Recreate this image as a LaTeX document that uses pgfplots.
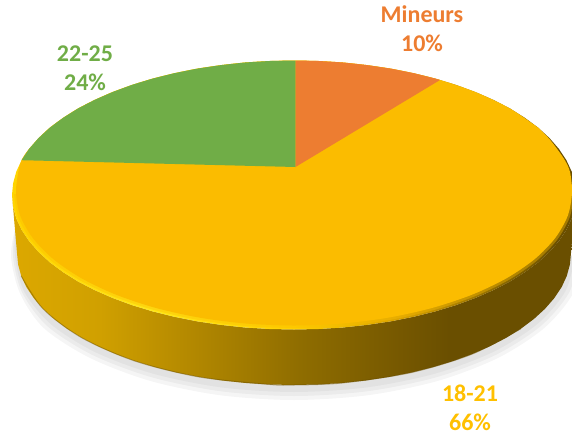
\documentclass[border=0pt]{standalone}
\usepackage{fontspec}
\setmainfont{Carlito}
\usepackage{pgfplots}
\pgfplotsset{compat=1.18}
\definecolor{cyellow}{HTML}{FBBC00}
\definecolor{cgreen}{HTML}{70AD47}
\definecolor{corange}{HTML}{ED7D31}
\definecolor{lyellow}{HTML}{FFC000}
\definecolor{sa}{HTML}{DCA800}
\definecolor{sb}{HTML}{D0A000}
\definecolor{sc}{HTML}{B08600}
\definecolor{sd}{HTML}{8F6D00}
\definecolor{se}{HTML}{765800}
\definecolor{sf}{HTML}{6A4F00}
\definecolor{ra}{HTML}{FFD400}
\definecolor{rb}{HTML}{FFE71A}
\definecolor{rc}{HTML}{FFD000}
\definecolor{rd}{HTML}{D9A200}
\definecolor{re}{HTML}{8A6800}
\definecolor{rf}{HTML}{6A4F00}
% side of the disc, left to right
\pgfdeclarehorizontalshading{pieside}{100bp}{color(0bp)=(sa); color(25bp)=(sa); color(32.8bp)=(sb); color(41.7bp)=(sc); color(50.5bp)=(sd); color(59.4bp)=(se); color(63.8bp)=(sf); color(100bp)=(sf)}
% bevel round the top face
\pgfdeclarehorizontalshading{pierim}{100bp}{color(0bp)=(ra); color(25bp)=(ra); color(37.2bp)=(rb); color(50bp)=(rc); color(59.4bp)=(rd); color(68.3bp)=(re); color(73.6bp)=(rf); color(100bp)=(rf)}
\begin{document}
\begin{tikzpicture}
\useasboundingbox (0,0) rectangle (572pt,434pt);
\begin{axis}[
    at={(0,0)}, anchor=south west,
    width=572pt, height=434pt,
    scale only axis,
    xmin=0, xmax=572,
    ymin=0, ymax=434,
    y dir=reverse,
    hide axis,
]
% soft shadow under the disc
\addplot[draw=none, fill=black, fill opacity=0.04, smooth] coordinates {
    (583,256) (573.2,293.3) (544.3,328) (498.3,357.8) (438.5,380.7) (368.8,395.1) (294,400)
    (219.2,395.1) (149.5,380.7) (89.7,357.8) (43.7,328) (20,293.3) (11,256) (16,225)};
\addplot[draw=none, fill=black, fill opacity=0.04, smooth] coordinates {
    (579,256) (569.3,292.3) (540.8,326) (495.5,355) (436.5,377.2) (367.8,391.2) (294,396)
    (220.2,391.2) (151.5,377.2) (92.5,355) (47.2,326) (22,292.3) (13,256) (16,225)};
\addplot[draw=none, fill=black, fill opacity=0.04, smooth] coordinates {
    (575,256) (565.4,291.2) (537.4,324) (492.7,352.2) (434.5,373.8) (366.7,387.4) (294,392)
    (221.3,387.4) (153.5,373.8) (95.3,352.2) (50.6,324) (24,291.2) (15,256) (16,225)};
% side wall
\addplot[draw=none, shade, shading=pieside] coordinates {
    (576,195) (574.9,206.7) (571.7,218.4) (566.4,229.8) (559,241) (549.6,251.8) (538.2,262.3)
    (525,272.1) (510,281.5) (493.4,290.1) (475.3,298) (455.8,305.2) (435,311.5) (413.2,316.9)
    (390.5,321.4) (367,324.9) (343,327.5) (318.6,329) (294,329.5) (269.4,329) (245,327.5)
    (221,324.9) (197.5,321.4) (174.8,316.9) (153,311.5) (132.2,305.2) (112.7,298) (94.6,290.1)
    (78,281.5) (63,272.1) (49.8,262.3) (38.4,251.8) (29,241) (21.6,229.8) (16.3,218.4)
    (13.1,206.7) (12,195)
    (17,253) (18.1,264.5) (21.2,275.9) (26.4,287.2) (33.7,298.1) (43,308.8) (54.1,319)
    (67.1,328.7) (81.8,337.8) (98.1,346.3) (115.9,354.1) (135.1,361.1) (155.5,367.3)
    (176.9,372.6) (199.3,377) (222.3,380.5) (245.9,383) (269.9,384.5) (294,385) (318.1,384.5)
    (342.1,383) (365.7,380.5) (388.7,377) (411.1,372.6) (432.5,367.3) (452.9,361.1)
    (472.1,354.1) (489.9,346.3) (506.2,337.8) (520.9,328.7) (533.9,319) (545,308.8)
    (554.3,298.1) (561.6,287.2) (566.8,275.9) (569.9,264.5) (571,253) (576,195)};
% darker lower edge of the wall
\addplot[draw=sf, draw opacity=0.45, line width=1pt, smooth] coordinates {
    (21.2,275.9) (43,308.8) (81.8,337.8) (135.1,361.1) (199.3,377) (269.9,384.5) (294,385)
    (342.1,383) (411.1,372.6) (472.1,354.1) (520.9,328.7)};
% bevel, full outline of the top face
\addplot[draw=none, shade, shading=pierim] coordinates {
    (576,195) (574.9,206.7) (571.7,218.4) (566.4,229.8) (559,241) (549.6,251.8) (538.2,262.3)
    (525,272.1) (510,281.5) (493.4,290.1) (475.3,298) (455.8,305.2) (435,311.5) (413.2,316.9)
    (390.5,321.4) (367,324.9) (343,327.5) (318.6,329) (294,329.5) (269.4,329) (245,327.5)
    (221,324.9) (197.5,321.4) (174.8,316.9) (153,311.5) (132.2,305.2) (112.7,298) (94.6,290.1)
    (78,281.5) (63,272.1) (49.8,262.3) (38.4,251.8) (29,241) (21.6,229.8) (16.3,218.4)
    (13.1,206.7) (12,195) (13.1,183.3) (16.3,171.6) (21.6,160.2) (29,149) (38.4,138.2)
    (49.8,127.7) (63,117.9) (78,108.5) (94.6,99.9) (112.7,92) (132.2,84.8) (153,78.5)
    (174.8,73.1) (197.5,68.6) (221,65.1) (245,62.5) (269.4,61) (294,60.5) (318.6,61) (343,62.5)
    (367,65.1) (390.5,68.6) (413.2,73.1) (435,78.5) (455.8,84.8) (475.3,92) (493.4,99.9)
    (510,108.5) (525,117.9) (538.2,127.7) (549.6,138.2) (559,149) (566.4,160.2) (571.7,171.6)
    (574.9,183.3) (576,195)};
% half-covering layer, softens the seam between bevel and face
\addplot[draw=none, fill=cyellow, fill opacity=0.4, smooth] coordinates {
    (574,194) (569.7,217.3) (557.1,239.8) (536.5,261) (508.5,280.1) (474,296.6) (434,310)
    (389.8,319.9) (342.6,326) (294,328) (245.4,326) (198.2,319.9) (154,310) (114,296.6)
    (79.5,280.1) (51.5,261) (30.9,239.8) (18.3,217.3) (14,194)};
% 18-21, 66 %: painted as the whole face, the other two lie on top
\addplot[draw=none, fill=cyellow, smooth] coordinates {
    (538.2,127.7) (549,138.6) (557.5,149.5) (565,160.5) (570,172) (572,192.5) (567.8,215.6)
    (555.2,238) (534.8,259) (507,278) (472.7,294.4) (433,307.7) (389.1,317.5) (342.3,323.5)
    (294,325.5) (245.7,323.5) (198.9,317.5) (155,307.7) (115.3,294.4) (81,278) (53.2,259)
    (32.8,238) (20.2,215.6) (16,192.5) (18.5,171) (21.6,160.2) (29,149) (49.8,127.7) (78,108.5)
    (112.7,92) (153,78.5) (197.5,68.6) (245,62.5) (294,60.5) (343,62.5) (390.5,68.6) (435,78.5)
    (475.3,92) (510,108.5) (538.2,127.7)};
% 22-25, 24 %
\addplot[draw=none, fill=cgreen] coordinates {
    (295.5,167) (21.6,160.2) (29,149) (38.4,138.2) (49.8,127.7) (63,117.9) (78,108.5) (94.6,99.9)
    (112.7,92) (132.2,84.8) (153,78.5) (174.8,73.1) (197.5,68.6) (221,65.1) (245,62.5) (269.4,61)
    (295.5,60.5) (295.5,167)};
% Mineurs, 10 %
\addplot[draw=none, fill=corange] coordinates {
    (295.5,167) (295.5,60.5) (318.6,61) (343,62.5) (367,65.1) (390.5,68.6) (413.2,73.1) (435,78.5)
    (440,80) (295.5,167)};
\node[inner sep=0pt, text=corange, font=\fontsize{24}{29}\selectfont\bfseries, align=center] at (axis cs:422,29) {Mineurs\\10\%};
\node[inner sep=0pt, text=cgreen, font=\fontsize{24}{29}\selectfont\bfseries, align=center] at (axis cs:85,68) {22-25\\24\%};
\node[inner sep=0pt, text=lyellow, font=\fontsize{24}{29}\selectfont\bfseries, align=center] at (axis cs:470,408) {18-21\\66\%};
\end{axis}
\end{tikzpicture}
\end{document}
